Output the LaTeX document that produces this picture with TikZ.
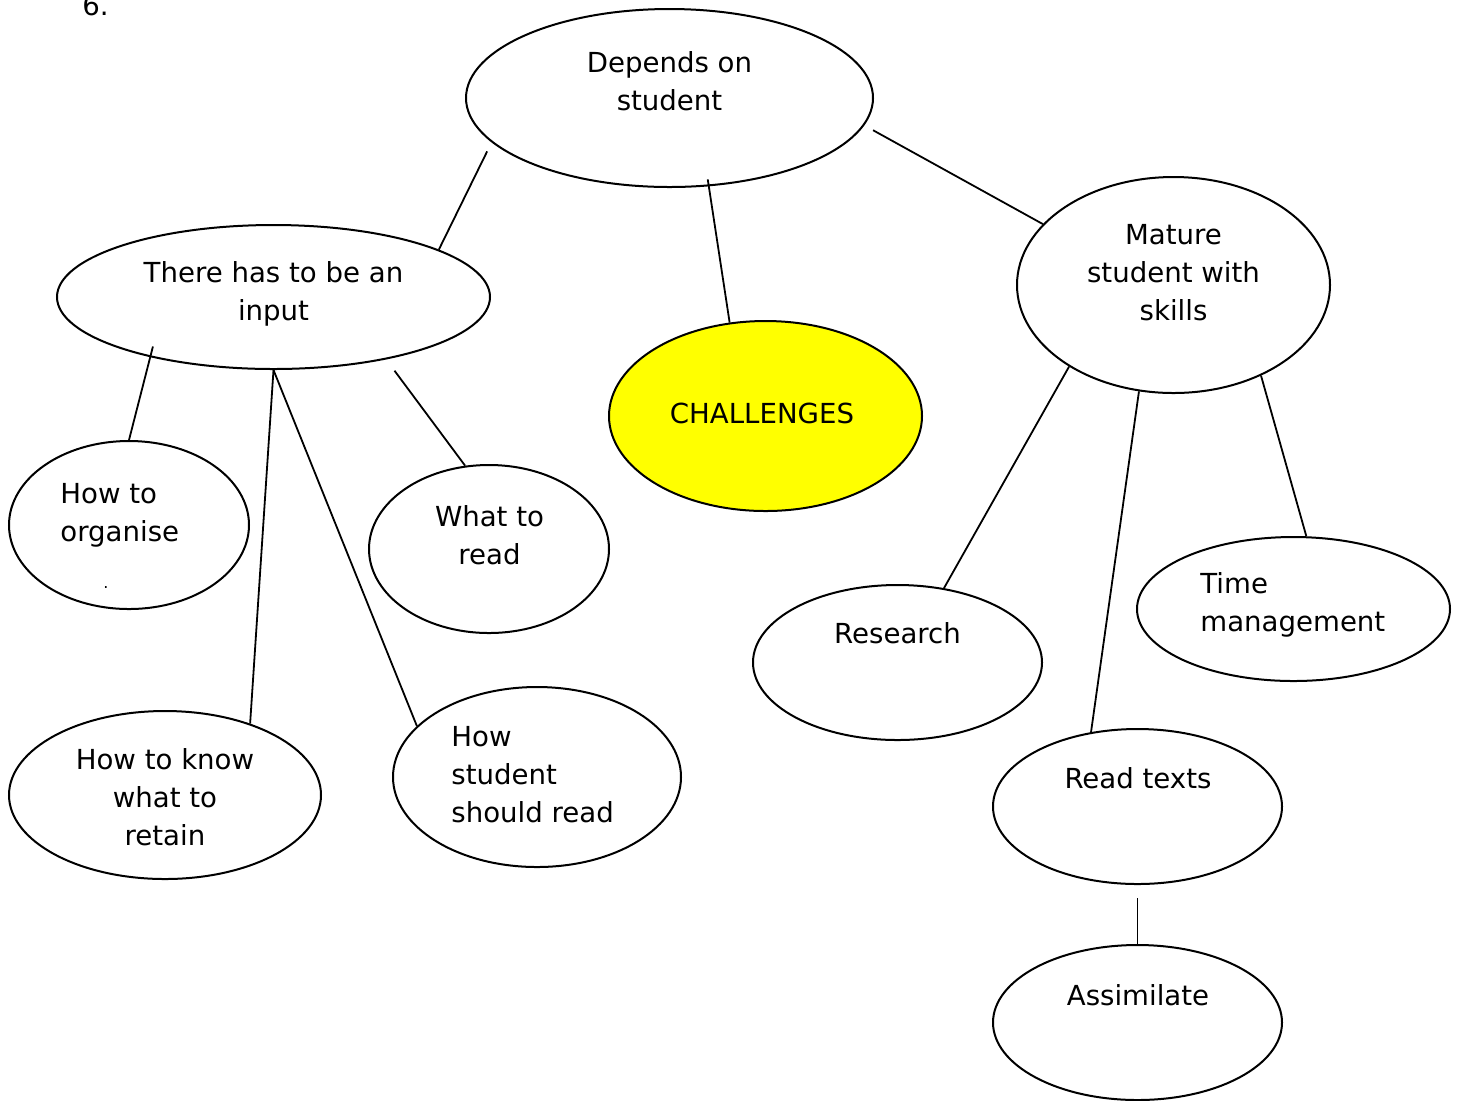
\documentclass[tikz,border=0pt]{standalone}
\usepackage{fontspec}
\setmainfont{DejaVu Sans}
\usetikzlibrary{shapes.geometric}
\definecolor{chalyellow}{RGB}{255,255,0}

\begin{document}
\begin{tikzpicture}[x=0.5pt,y=-0.5pt,
  bubble/.style={draw, ellipse, line width=1pt, inner sep=0pt},
  link/.style={line width=0.9pt},
  lbl/.style={font=\fontsize{13.8}{19}\selectfont, inner sep=0pt, anchor=base, align=center},
  lbll/.style={lbl, anchor=base west, align=left}]
\useasboundingbox (0,0) rectangle (1461,1100);
\node[lbll] (num) at (82,15) {6.};
% the bubbles (text placed at the baseline of its last line)
\node[bubble, minimum width=203.5pt, minimum height=89pt] (dep) at (669.5,98) {};
\node[lbl] (dep-t) at (669.5,110) {Depends on\\student};
\node[bubble, minimum width=216.5pt, minimum height=72pt] (inp) at (273.5,297) {};
\node[lbl] (inp-t) at (273.5,320) {There has to be an\\input};
\node[bubble, fill=chalyellow, minimum width=156.5pt, minimum height=95pt] (chal) at (765.5,416) {};
\node[lbl] (chal-t) at (762,423) {CHALLENGES};
\node[bubble, minimum width=156.5pt, minimum height=108pt] (mat) at (1173.5,285) {};
\node[lbl] (mat-t) at (1173.5,320) {Mature\\student with\\skills};
\node[bubble, minimum width=120pt, minimum height=84pt] (org) at (129,525) {};
\node[lbll] (org-t) at (60,541) {How to\\organise};
\node[lbl, font=\fontsize{8}{8}\selectfont] (org-d) at (106,588) {.};
\node[bubble, minimum width=120pt, minimum height=84pt] (what) at (489,549) {};
\node[lbl] (what-t) at (489.5,564) {What to\\read};
\node[bubble, minimum width=156pt, minimum height=84pt] (ret) at (165,795) {};
\node[lbl] (ret-t) at (165,845) {How to know\\what to\\retain};
\node[bubble, minimum width=144pt, minimum height=90pt] (how) at (537,777) {};
\node[lbll] (how-t) at (451,822) {How\\student\\should read};
\node[bubble, minimum width=144.5pt, minimum height=77.5pt] (res) at (897.5,662.5) {};
\node[lbl] (res-t) at (897.5,643) {Research};
\node[bubble, minimum width=156.5pt, minimum height=72pt] (tim) at (1293.5,609) {};
\node[lbll] (tim-t) at (1200,631) {Time\\management};
\node[bubble, minimum width=144.5pt, minimum height=77.5pt] (rdt) at (1137.5,806.5) {};
\node[lbl] (rdt-t) at (1138,788) {Read texts};
\node[bubble, minimum width=144.5pt, minimum height=77.5pt] (ass) at (1137.5,1022.5) {};
\node[lbl] (ass-t) at (1138,1005) {Assimilate};
% the links
\draw[link, shorten <=5pt] (dep.194) -- (inp.16);
\draw[link, shorten <=-3.5pt] (dep.294) -- (chal.111);
\draw[link, shorten <=5pt] (dep.352) -- (mat.155);
\draw[link, shorten <=-5.5pt] (inp.206) -- (org.north);
\draw[link] (inp.south) -- (ret.40);
\draw[link] (inp.south) -- (how.157);
\draw[link, shorten <=7pt] (inp.331) -- (what.106);
\draw[link] (mat.218) -- (res.58);
\draw[link] (mat.252) -- (rdt.122);
\draw[link] (mat.314) -- (tim.80);
\draw[link, shorten <=6.5pt] (rdt.south) -- (ass.north);
\end{tikzpicture}
\end{document}
